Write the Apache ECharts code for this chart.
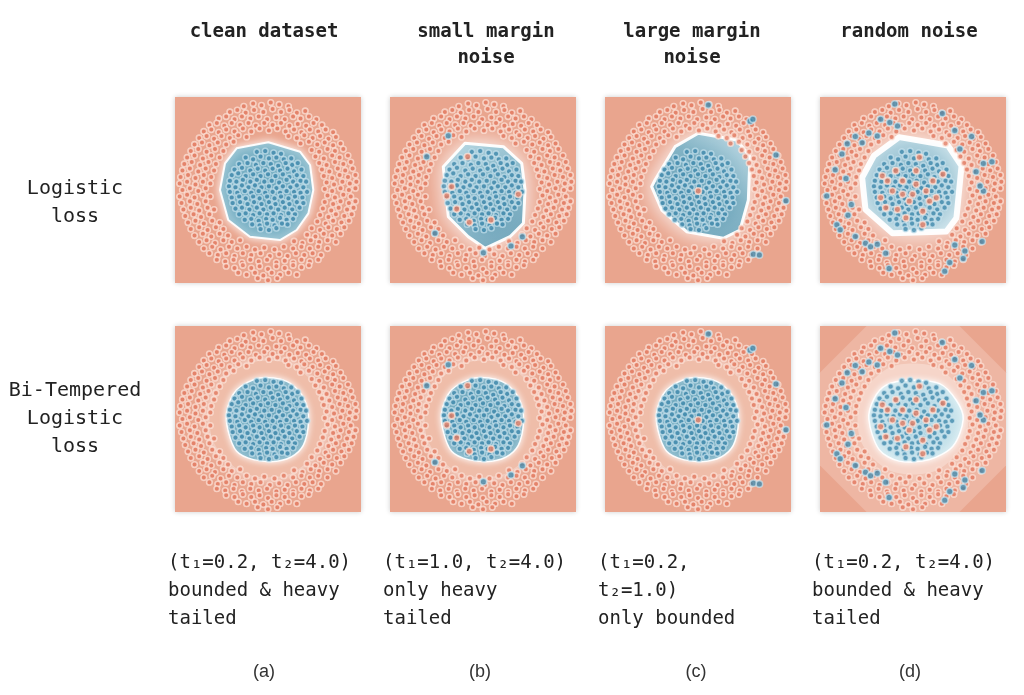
<!DOCTYPE html>
<html>
<head>
<meta charset="utf-8">
<script src="https://cdn.jsdelivr.net/npm/echarts@6/dist/echarts.min.js"></script>
<style>
html,body{margin:0;padding:0;background:#fff}
#chart{width:1024px;height:695px}
</style>
</head>
<body>
<div id="chart"></div>
<script>
// texts
const colTitles=["clean dataset","small margin\nnoise","large margin\nnoise","random noise"]
const rowTitles=["Logistic\nloss","Bi-Tempered\nLogistic\nloss"]
const captions=[
  "(t₁=0.2, t₂=4.0)\nbounded & heavy\ntailed",
  "(t₁=1.0, t₂=4.0)\nonly heavy\ntailed",
  "(t₁=0.2,\nt₂=1.0)\nonly bounded",
  "(t₁=0.2, t₂=4.0)\nbounded & heavy\ntailed"
]
const panelTags=["(a)","(b)","(c)","(d)"]

// clean dataset: inner disc (blue class)
const innerPts=[
[-1.2,4.1],[-0.3,4.2],[0.6,4.0],[1.4,3.9],
[-2.4,3.5],[-1.6,3.3],[-0.8,3.6],[0.1,3.4],[0.9,3.5],[1.7,3.3],[2.5,3.4],
[-3.1,2.8],[-2.2,2.9],[-1.3,2.7],[-0.5,2.9],[0.3,2.8],[1.1,2.6],[1.9,2.9],[2.6,2.7],[3.2,2.9],
[-3.6,2.2],[-2.8,2.4],[-1.9,2.1],[-1.1,2.3],[-0.3,2.1],[0.5,2.3],[1.3,2.1],[2.1,2.3],[2.8,2.0],[3.6,2.2],
[-3.9,1.6],[-3.2,1.8],[-2.4,1.5],[-1.6,1.7],[-0.8,1.5],[0.0,1.7],[0.8,1.5],[1.6,1.7],[2.3,1.4],[3.1,1.6],[3.8,1.5],
[-4.1,1.0],[-3.4,0.9],[-2.7,1.1],[-1.9,0.9],[-1.2,1.1],[-0.4,0.9],[0.4,1.0],[1.2,0.8],[2.0,1.1],[2.7,0.9],[3.5,1.0],[4.1,0.9],
[-4.2,0.4],[-3.5,0.3],[-2.8,0.5],[-2.1,0.3],[-1.4,0.5],[-0.7,0.3],[0.1,0.4],[0.9,0.2],[1.6,0.4],[2.4,0.3],[3.1,0.5],[3.8,0.3],
[-4.1,-0.2],[-3.3,-0.3],[-2.5,-0.1],[-1.8,-0.3],[-1.0,-0.1],[-0.3,-0.3],[0.5,-0.2],[1.3,-0.3],[2.0,-0.1],[2.8,-0.2],[3.5,-0.3],[4.2,-0.2],
[-3.9,-0.8],[-3.1,-0.7],[-2.4,-0.9],[-1.6,-0.7],[-0.9,-0.9],[-0.1,-0.7],[0.7,-0.9],[1.4,-0.7],[2.2,-0.9],[2.9,-0.7],[3.7,-0.8],
[-3.8,-1.4],[-3.0,-1.3],[-2.2,-1.5],[-1.5,-1.3],[-0.7,-1.5],[0.1,-1.3],[0.8,-1.5],[1.6,-1.3],[2.3,-1.5],[3.1,-1.3],[3.8,-1.4],
[-3.5,-2.0],[-2.8,-1.9],[-2.0,-2.1],[-1.2,-1.9],[-0.5,-2.1],[0.3,-1.9],[1.1,-2.1],[1.8,-1.9],[2.6,-2.1],[3.4,-1.9],
[-3.1,-2.6],[-2.4,-2.5],[-1.6,-2.7],[-0.9,-2.5],[-0.1,-2.6],[0.6,-2.5],[1.4,-2.7],[2.2,-2.5],[2.9,-2.6],
[-2.5,-3.2],[-1.8,-3.1],[-1.0,-3.3],[-0.2,-3.1],[0.5,-3.2],[1.3,-3.0],[2.0,-3.2],[2.7,-3.1],
[-1.7,-3.7],[-0.9,-3.8],[-0.1,-3.6],[0.7,-3.8],[1.5,-3.6],[2.1,-3.7],
[-0.8,-4.2],[0.1,-4.3],[0.9,-4.1]
]

// clean dataset: outer ring (red class)
const ringPts=[
[-2.6,9.0],[-1.6,9.3],[-0.7,9.1],[0.3,9.4],[1.2,9.2],[2.2,9.0],
[-4.1,8.4],[-3.3,8.6],[-2.4,8.3],[-1.5,8.6],[-0.5,8.4],[0.5,8.7],[1.4,8.4],[2.3,8.6],[3.1,8.3],[4.0,8.5],
[-5.3,7.7],[-4.5,7.9],[-3.6,7.6],[-2.8,7.9],[-1.9,7.7],[-1.0,7.9],[-0.1,7.6],[0.9,7.8],[1.8,7.6],[2.7,7.9],[3.5,7.7],[4.4,7.9],[5.2,7.6],
[-6.3,7.0],[-5.5,7.2],[-4.7,6.9],[-3.9,7.2],[-3.0,7.0],[-2.1,7.2],[-1.3,6.9],[-0.4,7.2],[0.5,7.0],[1.4,7.2],[2.3,6.9],[3.2,7.1],[4.1,6.9],[4.9,7.2],[5.8,7.0],
[-6.9,6.3],[-6.1,6.5],[-5.3,6.2],[-4.5,6.5],[-3.6,6.3],[-2.7,6.6],[-1.8,6.3],[-0.9,6.6],[0.1,6.4],[1.0,6.6],[1.9,6.3],[2.8,6.5],[3.6,6.2],[4.5,6.5],[5.4,6.3],[6.2,6.5],[7.0,6.2],
[-7.4,5.6],[-6.6,5.8],[-5.8,5.5],[-5.0,5.8],[-4.1,5.6],[-3.2,5.9],[-2.3,5.7],[2.2,5.8],[3.1,5.6],[3.9,5.9],[4.8,5.6],[5.6,5.8],[6.5,5.5],[7.3,5.7],
[-7.9,4.9],[-7.1,5.1],[-6.3,4.8],[-5.4,5.1],[-4.5,4.9],[-3.7,5.2],[3.5,5.0],[4.4,5.2],[5.3,4.9],[6.1,5.1],[7.0,4.8],[7.8,5.0],
[-8.3,4.2],[-7.5,4.4],[-6.6,4.1],[-5.7,4.4],[-4.8,4.2],[4.7,4.3],[5.5,4.1],[6.4,4.4],[7.2,4.2],[8.1,4.4],
[-8.7,3.5],[-7.9,3.7],[-7.0,3.4],[-6.1,3.7],[-5.2,3.5],[5.1,3.6],[6.0,3.4],[6.9,3.7],[7.7,3.5],[8.6,3.7],
[-9.0,2.8],[-8.2,3.0],[-7.3,2.7],[-6.4,3.0],[-5.6,2.8],[5.5,2.9],[6.3,2.7],[7.2,3.0],[8.1,2.8],[8.9,3.0],
[-9.2,2.1],[-8.4,2.3],[-7.5,2.0],[-6.7,2.3],[-5.8,2.1],[5.8,2.2],[6.6,2.0],[7.5,2.3],[8.3,2.1],[9.1,2.3],
[-9.4,1.4],[-8.6,1.6],[-7.8,1.3],[-6.9,1.6],[-6.1,1.4],[6.0,1.5],[6.9,1.3],[7.7,1.6],[8.6,1.4],[9.4,1.6],
[-9.5,0.7],[-8.7,0.9],[-7.8,0.6],[-7.0,0.9],[-6.2,0.7],[6.3,0.8],[7.1,0.6],[8.0,0.9],[8.8,0.7],[9.5,0.9],
[-9.2,0.0],[-8.4,0.2],[-7.5,-0.1],[-6.7,0.2],[6.1,0.1],[6.9,-0.1],[7.8,0.2],[8.7,0.0],[9.4,0.2],
[-9.5,-0.7],[-8.7,-0.5],[-7.9,-0.8],[-7.0,-0.5],[-6.2,-0.7],[6.4,-0.6],[7.2,-0.8],[8.1,-0.5],[8.9,-0.7],
[-9.3,-1.4],[-8.4,-1.2],[-7.6,-1.5],[-6.7,-1.2],[6.1,-1.3],[7.0,-1.5],[7.8,-1.2],[8.7,-1.4],[9.4,-1.2],
[-9.1,-2.1],[-8.3,-1.9],[-7.4,-2.2],[-6.5,-1.9],[-5.8,-2.1],[5.9,-2.0],[6.8,-2.2],[7.6,-1.9],[8.5,-2.1],[9.2,-1.9],
[-8.9,-2.8],[-8.0,-2.6],[-7.2,-2.9],[-6.3,-2.6],[5.6,-2.7],[6.5,-2.9],[7.3,-2.6],[8.2,-2.8],[9.0,-2.6],
[-8.6,-3.5],[-7.8,-3.3],[-6.9,-3.6],[-6.0,-3.3],[-5.2,-3.5],[5.3,-3.4],[6.2,-3.6],[7.0,-3.3],[7.9,-3.5],[8.7,-3.3],
[-8.3,-4.2],[-7.4,-4.0],[-6.5,-4.3],[-5.6,-4.0],[-4.8,-4.2],[4.7,-4.1],[5.6,-4.3],[6.5,-4.0],[7.4,-4.2],[8.2,-4.0],
[-7.9,-4.9],[-7.0,-4.7],[-6.1,-5.0],[-5.2,-4.7],[-4.3,-4.9],[4.2,-4.8],[5.1,-5.0],[6.0,-4.7],[6.9,-4.9],[7.8,-4.7],
[-7.4,-5.6],[-6.6,-5.4],[-5.7,-5.7],[-4.8,-5.4],[-3.9,-5.6],[-3.0,-5.4],[2.8,-5.5],[3.7,-5.7],[4.6,-5.4],[5.5,-5.6],[6.4,-5.4],[7.3,-5.6],
[-6.9,-6.3],[-6.0,-6.1],[-5.1,-6.4],[-4.2,-6.1],[-3.3,-6.3],[-2.3,-6.1],[-1.4,-6.4],[-0.4,-6.2],[0.7,-6.4],[1.7,-6.1],[2.7,-6.3],[3.6,-6.1],[4.5,-6.3],[5.4,-6.1],[6.4,-6.3],
[-6.3,-6.8],[-5.4,-7.0],[-4.5,-6.8],[-3.6,-7.1],[-2.7,-6.8],[-1.8,-7.0],[-0.8,-6.8],[0.2,-7.1],[1.2,-6.9],[2.1,-7.1],[3.0,-6.8],[3.9,-7.0],[4.8,-6.8],[5.7,-7.0],
[-5.5,-7.5],[-4.6,-7.7],[-3.7,-7.5],[-2.8,-7.8],[-1.9,-7.5],[-1.0,-7.7],[-0.1,-7.5],[0.9,-7.8],[1.8,-7.6],[2.7,-7.8],[3.6,-7.5],[4.5,-7.7],[5.4,-7.5],
[-4.5,-8.2],[-3.6,-8.4],[-2.7,-8.1],[-1.8,-8.4],[-0.9,-8.2],[0.0,-8.5],[0.9,-8.2],[1.8,-8.4],[2.7,-8.1],[3.6,-8.3],[4.4,-8.1],
[-3.2,-8.9],[-2.3,-9.1],[-1.4,-8.9],[-0.5,-9.2],[0.4,-8.9],[1.3,-9.1],[2.2,-8.9],[3.1,-9.1],
[-1.1,-9.5],[0.0,-9.7],[1.0,-9.5]
]

// noisy labels per column
const noiseBlueA=[]
const noiseRedA=[]
const noiseBlueB=[[-3.73,5.84],[-6.05,3.58],[-5.16,-4.66],[0.04,-6.74],[3.01,-6.02],[4.23,-5.02]]
const noiseRedB=[[-1.65,3.58],[-3.37,0.36],[-3.9,-0.65],[-2.83,-2.04],[-1.47,-3.48],[0.86,-3.23],[3.8,-0.47]]
const noiseBlueC=[[1.11,9.14],[5.6,7.4],[5.9,7.6],[8.39,3.76],[9.46,-1.15],[5.95,-6.92],[6.6,-6.99]]
const noiseRedC=[[0.03,-0.1]]
const noiseBlueD=[
[-1.96,9.24],[-3.48,7.61],[-2.5,7.25],[-1.67,6.88],[-3.84,5.8],[-4.75,6.12],[-6.2,5.76],[-5.47,5.07],
[-7.07,4.96],[-7.64,3.88],[-8.37,2.17],[-7.21,1.23],[-9.28,-0.65],[-6.63,-1.56],[-6.99,-2.72],[-8.19,-3.73],
[-7.83,-4.28],[-6.2,-5.0],[-5.11,-5.72],[-4.57,-6.09],[-3.84,-5.83],[-2.93,-6.81],[-2.57,-8.44],[3.41,-8.73],
[3.95,-7.79],[5.4,-7.36],[4.49,-5.91],[5.58,-6.56],[7.43,-5.54],[7.57,-0.11],[7.21,0.43],[6.78,1.96],
[7.57,2.86],[8.48,3.04],[6.3,5.76],[5.04,4.42],[4.49,6.41],[3.15,8.22]
]
const noiseRedD=[
[-1.85,2.07],[-2.75,0.98],[-3.48,-0.83],[-1.12,-0.47],[0.33,0.62],[1.41,-0.11],[-0.4,-1.2],[-1.67,-2.1],
[2.14,0.98],[1.05,-2.28],[-2.21,-0.11],[0.33,2.07],[-0.76,-3.0],[-2.93,-1.92],[1.78,-1.2],[-1.12,0.98],
[-0.04,-0.47],[2.5,-0.83],[0.69,3.51],[3.22,1.7],[-3.3,1.52],[1.05,-3.73]
]

// decision regions
const boundA1=[[-3.37,4.48],[0.04,5.13],[3.44,4.12],[4.52,2.69],[4.87,0],[4.34,-2.51],[3.08,-4.3],[1.29,-5.38],[-1.94,-5.02],[-4.27,-3.23],[-5.16,0],[-4.62,2.87]]
const boundB1=[[-1.94,5.02],[2.19,4.66],[4.16,2.87],[4.52,0],[4.34,-3.58],[2.9,-5.02],[0.22,-6.27],[-1.58,-5.02],[-3.73,-2.87],[-4.27,2.51]]
const boundC1=[[-2.47,4.66],[0.03,6.1],[4.16,5.38],[5.59,3.58],[5.41,-1.08],[4.52,-4.3],[2.72,-5.19],[-1.22,-4.48],[-3.9,-2.15],[-4.98,0.36],[-4.62,1.08]]
const boundD1=[[-1.49,5.69],[3.77,4.78],[5.22,2.61],[4.67,-3.01],[3.59,-4.46],[-2.21,-4.64],[-5.11,-2.1],[-5.47,1.34],[-4.2,3.7]]
const discA2=[[-0.86,4.41],[2.01,4.05],[3.62,2.62],[4.34,0.47],[3.98,-2.4],[2.9,-3.84],[0.93,-4.55],[-1.58,-4.37],[-3.37,-3.48],[-4.27,-1.33],[-4.44,0.82],[-3.37,3.15]]
const discD2=[[-2.93,3.62],[-0.4,4.17],[2.86,3.8],[4.67,1.99],[5.4,0],[4.31,-2.9],[1.78,-4.35],[-1.49,-4.53],[-3.66,-3.26],[-4.75,0],[-4.2,2.17]]
const paleBand2=[[-2.4,5.9],[2.4,5.9],[5.9,2.4],[5.9,-2.4],[2.4,-5.9],[-2.4,-5.9],[-5.9,-2.4],[-5.9,2.4]]
const outerOctD2=[[-5,10],[5,10],[10,5],[10,-5],[5,-10],[-5,-10],[-10,-5],[-10,5]]
const midOctD2=[[-2.9,6.8],[2.9,6.8],[6.8,2.9],[6.8,-2.9],[2.9,-6.8],[-2.9,-6.8],[-6.8,-2.9],[-6.8,2.9]]
const innerOctD2=[[-2.4,5.6],[2.4,5.6],[5.6,2.4],[5.6,-2.4],[2.4,-5.6],[-2.4,-5.6],[-5.6,-2.4],[-5.6,2.4]]

const boundRow1=[boundA1,boundB1,boundC1,boundD1]
const discRow2=[discA2,discA2,discA2,discD2]
const noiseBlue=[noiseBlueA,noiseBlueB,noiseBlueC,noiseBlueD]
const noiseRed=[noiseRedA,noiseRedB,noiseRedC,noiseRedD]

const LEFTS=[175,390,605,820]
const TOPS=[97,326]
const SIZE=186
const SALMON='#e9a58e'
const MONO="'DejaVu Sans Mono', 'Liberation Mono', monospace"

const G=echarts.graphic
let fillsRow1=[
  new G.RadialGradient(0.5,0.5,0.6,[{offset:0,color:'#6aa6bd'},{offset:1,color:'#84b8ca'}]),
  new G.LinearGradient(0,0,1,1,[{offset:0,color:'#b6d7e2'},{offset:0.45,color:'#84b6c8'},{offset:1,color:'#5c97b0'}]),
  new G.LinearGradient(0,1,1,0,[{offset:0,color:'#5e9ab3'},{offset:0.6,color:'#75abbf'},{offset:1,color:'#c2dde7'}]),
  new G.RadialGradient(0.5,0.5,0.6,[{offset:0,color:'#7fb1c5'},{offset:0.65,color:'#9fc7d6'},{offset:1,color:'#d3e7ee'}])
]
let glowRow1=[{w:2,blur:8},{w:3,blur:22},{w:3,blur:22},{w:6,blur:30}]
let fillsRow2=[
  new G.RadialGradient(0.5,0.5,0.6,[{offset:0,color:'#66a3ba'},{offset:1,color:'#7fb3c6'}]),
  new G.RadialGradient(0.5,0.5,0.6,[{offset:0,color:'#66a3ba'},{offset:1,color:'#7fb3c6'}]),
  new G.RadialGradient(0.5,0.5,0.6,[{offset:0,color:'#66a3ba'},{offset:1,color:'#7fb3c6'}]),
  new G.RadialGradient(0.5,0.5,0.6,[{offset:0,color:'#a4cfdd'},{offset:1,color:'#d4eaf0'}])
]

let region=(i,pts,fill,glow,smooth)=>({
  type:'custom',xAxisIndex:i,yAxisIndex:i,data:[[0,0]],silent:true,animation:false,
  renderItem:(params,api)=>({
    type:'polygon',
    shape:{points:pts.map(p=>api.coord(p)),smooth:smooth?0.3:0},
    style:{
      fill:fill,
      stroke:glow?'rgba(255,255,255,0.95)':null,
      lineWidth:glow?glow.w:0,
      lineJoin:'round',
      shadowBlur:glow?glow.blur:0,
      shadowColor:'#ffffff'
    }
  })
})

let redStyle={color:'#e27b61',borderColor:'rgba(253,230,221,0.9)',borderWidth:1.6}
let blueStyle={color:'#4189ad',borderColor:'rgba(205,230,240,0.85)',borderWidth:1.5}

let dots=(i,pts,style,size)=>({
  type:'scatter',xAxisIndex:i,yAxisIndex:i,data:pts,symbolSize:size||5.6,
  itemStyle:style,silent:true,animation:false
})

let grids=[],xAxes=[],yAxes=[],series=[]
for(let r=0;r<2;r++){
  for(let c=0;c<4;c++){
    let i=r*4+c
    grids.push({left:LEFTS[c],top:TOPS[r],width:SIZE,height:SIZE,show:true,
      backgroundColor:SALMON,borderWidth:0,shadowBlur:5,shadowColor:'rgba(0,0,0,0.2)'})
    xAxes.push({type:'value',gridIndex:i,min:-10,max:10,show:false})
    yAxes.push({type:'value',gridIndex:i,min:-10,max:10,show:false})
    if(r==0){
      series.push(region(i,boundRow1[c],fillsRow1[c],glowRow1[c],false))
    }else{
      if(c==3){
        series.push(region(i,outerOctD2,'#eeb6a3',null,false))
        series.push(region(i,midOctD2,'#f2c5b5',null,true))
        series.push(region(i,innerOctD2,'#f6d5c9',null,true))
      }else{
        series.push(region(i,paleBand2,'#efbda9',{w:0,blur:14},true))
      }
      series.push(region(i,discRow2[c],fillsRow2[c],{w:1.5,blur:6},true))
    }
    series.push(dots(i,ringPts,redStyle))
    series.push(dots(i,innerPts,blueStyle))
    series.push(dots(i,noiseRed[c],redStyle,6.5))
    series.push(dots(i,noiseBlue[c],blueStyle,6.5))
  }
}

// text
let texts=[]
let colCenters=[264,486,692,909]
colTitles.forEach((t,k)=>{
  texts.push({type:'text',x:colCenters[k],y:19,style:{text:t,font:"bold 19px "+MONO,fill:'#222',align:'center',verticalAlign:'top',lineHeight:26}})
})
texts.push({type:'text',x:75,y:175,style:{text:rowTitles[0],font:"20px "+MONO,fill:'#222',align:'center',verticalAlign:'top',lineHeight:28}})
texts.push({type:'text',x:75,y:377,style:{text:rowTitles[1],font:"20px "+MONO,fill:'#222',align:'center',verticalAlign:'top',lineHeight:28}})
let capLefts=[168,383,598,812]
captions.forEach((t,k)=>{
  texts.push({type:'text',x:capLefts[k],y:549,style:{text:t,font:"19px "+MONO,fill:'#222',align:'left',verticalAlign:'top',lineHeight:28}})
})
let tagCenters=[264,480,696,910]
panelTags.forEach((t,k)=>{
  texts.push({type:'text',x:tagCenters[k],y:672,style:{text:t,font:"18px 'Liberation Sans', Arial, sans-serif",fill:'#333',align:'center',verticalAlign:'middle'}})
})

let chart=echarts.init(document.getElementById('chart'),null,{renderer:'canvas'})
chart.setOption({
  animation:false,
  backgroundColor:'#ffffff',
  grid:grids,
  xAxis:xAxes,
  yAxis:yAxes,
  series:series,
  graphic:texts
})
</script>
</body>
</html>
